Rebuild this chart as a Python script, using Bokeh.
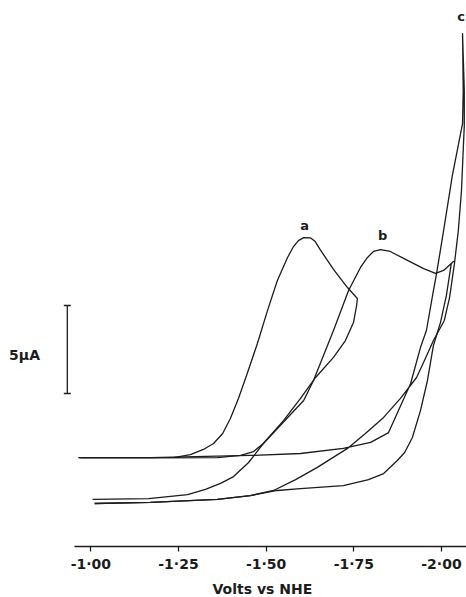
from bokeh.plotting import figure
from bokeh.models import Range1d, Label, Whisker, TeeHead, ColumnDataSource, FixedTicker, Title
from bokeh.embed import file_html
from bokeh.resources import INLINE
from bokeh.core.properties import value

# ---- data (Volts vs NHE, current in microamps, cathodic up) ----
tick_values = [-1.00, -1.25, -1.50, -1.75, -2.00]
tick_labels = ["-1·00", "-1·25", "-1·50", "-1·75", "-2·00"]

a_fwd_volts = [-0.965, -1.170, -1.236, -1.284, -1.321, -1.350, -1.376, -1.398, -1.421, -1.447,
               -1.475, -1.504, -1.532, -1.561, -1.578, -1.592, -1.607, -1.627, -1.640, -1.655,
               -1.692, -1.732, -1.760]
a_fwd_current = [2.61, 2.61, 2.61, 2.78, 3.07, 3.41, 3.98, 4.83, 5.97, 7.44,
                 9.09, 10.97, 12.67, 13.98, 14.60, 14.94, 15.11, 15.09, 14.88, 14.40,
                 13.30, 12.27, 11.65]
a_rev_volts = [-1.760, -1.758, -1.749, -1.726, -1.692, -1.641, -1.598, -1.550, -1.492, -1.464,
               -1.427, -1.361, -1.170, -0.971]
a_rev_current = [11.65, 11.25, 10.28, 9.26, 8.30, 7.16, 5.97, 4.72, 3.41, 2.95,
                 2.73, 2.61, 2.59, 2.59]

b_fwd_volts = [-1.005, -1.165, -1.276, -1.327, -1.370, -1.407, -1.450, -1.492, -1.607, -1.635,
               -1.692, -1.735, -1.769, -1.789, -1.806, -1.826, -1.854, -1.903, -1.949, -1.983,
               -2.006, -2.034]
b_fwd_current = [0.23, 0.28, 0.51, 0.80, 1.14, 1.53, 2.33, 3.41, 5.85, 6.99,
                 9.83, 12.10, 13.41, 13.98, 14.32, 14.43, 14.32, 13.81, 13.35, 13.07,
                 13.24, 13.75]
b_rev_volts = [-2.034, -2.028, -2.014, -1.997, -1.977, -1.960, -1.940, -1.917, -1.895, -1.874,
               -1.835, -1.792, -1.720, -1.598, -1.532, -1.455, -1.361, -1.170, -1.011]
b_rev_current = [13.75, 13.64, 11.82, 10.28, 8.98, 6.99, 5.28, 3.75, 2.90, 2.44,
                 1.70, 1.36, 1.02, 0.85, 0.74, 0.45, 0.23, 0.06, 0.00]

c_fwd_volts = [-0.965, -1.170, -1.455, -1.598, -1.720, -1.798, -1.849, -1.912, -1.940, -1.957,
               -1.977, -1.986, -2.006, -2.031, -2.060, -2.062, -2.060]
c_fwd_current = [2.61, 2.61, 2.73, 2.84, 3.13, 3.47, 4.03, 6.82, 8.86, 9.83,
                 12.10, 13.07, 15.51, 18.64, 21.59, 23.47, 26.70]
c_rev_volts = [-2.060, -2.065, -2.065, -2.057, -2.048, -2.037, -2.023, -2.008, -1.977, -1.954,
               -1.929, -1.883, -1.835, -1.783, -1.732, -1.646, -1.584, -1.521, -1.455, -1.361,
               -1.170, -1.011]
c_rev_current = [26.70, 23.47, 21.48, 17.78, 15.51, 13.64, 11.70, 10.40, 9.26, 8.24,
                 7.16, 5.97, 4.89, 3.98, 3.13, 2.05, 1.36, 0.74, 0.45, 0.23,
                 0.06, 0.00]

curve_names = ["a", "b", "c"]
curve_label_volts = [-1.610, -1.832, -2.056]
curve_label_current = [15.80, 15.23, 27.67]

scale_bar_volts = -0.933
scale_bar_low = 6.25
scale_bar_high = 11.25
scale_bar_text = "5μA"
x_title = "Volts vs NHE"

FONT = "DejaVu Sans"
INK = "#1c1c1c"

p = figure(frame_width=466, frame_height=546,
           x_range=Range1d(-0.7425, -2.0713), y_range=Range1d(-2.443, 28.58),
           output_backend="svg", toolbar_location=None, y_axis_location=None,
           min_border_left=0, min_border_right=0, min_border_top=0, min_border_bottom=0)
p.outline_line_color = None
p.xgrid.visible = False
p.ygrid.visible = False
p.background_fill_color = "white"
p.border_fill_color = "white"

for xs, ys in [(a_fwd_volts + a_rev_volts, a_fwd_current + a_rev_current),
               (b_fwd_volts + b_rev_volts, b_fwd_current + b_rev_current),
               (c_fwd_volts + c_rev_volts, c_fwd_current + c_rev_current)]:
    p.line(xs, ys, line_color=INK, line_width=1.3, line_join="round")

lab_src = ColumnDataSource(dict(x=curve_label_volts, y=curve_label_current, t=curve_names))
p.text(x="x", y="y", text="t", source=lab_src, text_font=value(FONT), text_font_style="bold",
       text_font_size="13px", text_align="center", text_baseline="middle", text_color=INK)

p.add_layout(Whisker(base=scale_bar_volts, lower=scale_bar_low, upper=scale_bar_high,
                     dimension="height", line_color=INK, line_width=1.3,
                     upper_head=TeeHead(size=7, line_color=INK, line_width=1.3),
                     lower_head=TeeHead(size=7, line_color=INK, line_width=1.3)))
p.add_layout(Label(x=-0.767, y=(scale_bar_low + scale_bar_high) / 2 - 0.3, text=scale_bar_text,
                   text_font=FONT, text_font_style="bold", text_font_size="14px",
                   text_align="left", text_baseline="middle", text_color=INK))

ax = p.xaxis[0]
ax.ticker = FixedTicker(ticks=tick_values)
ax.major_label_overrides = dict(zip(tick_values, tick_labels))
ax.bounds = (-2.0713, -0.9535)
ax.minor_tick_line_color = None
ax.major_tick_in = 0
ax.major_tick_out = 5
ax.axis_line_color = INK
ax.axis_line_width = 1.3
ax.major_tick_line_color = INK
ax.major_tick_line_width = 1.3
ax.major_label_standoff = 4
ax.major_label_text_font = FONT
ax.major_label_text_font_style = "bold"
ax.major_label_text_font_size = "14px"
ax.major_label_text_color = INK

p.add_layout(Title(text=x_title, align="left", offset=212, standoff=9,
                   text_font=FONT, text_font_style="bold", text_font_size="14px",
                   text_color=INK), "below")

open("out.html", "w").write(file_html(p, INLINE))
